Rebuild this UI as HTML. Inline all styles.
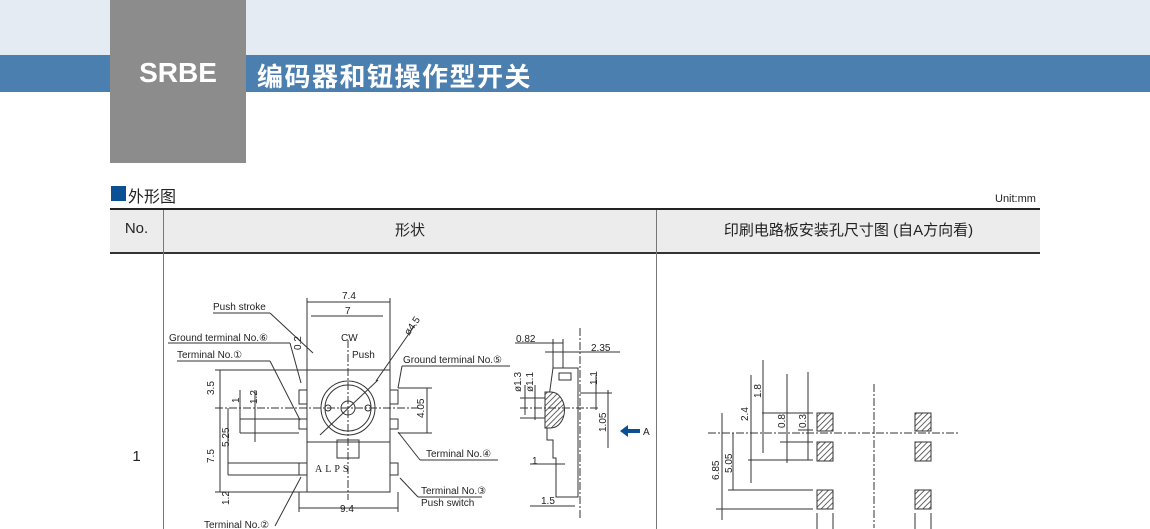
<!DOCTYPE html>
<html><head><meta charset="utf-8"><style>
body{margin:0;width:1150px;height:529px;overflow:hidden;background:#fff;position:relative;font-family:"Liberation Sans","Noto Sans CJK SC",sans-serif}
.a{position:absolute}
</style></head><body>
<div class="a" style="left:0;top:0;width:1150px;height:55px;background:#e4ebf3"></div>
<div class="a" style="left:0;top:55px;width:1150px;height:37px;background:#4b7fb0"></div>
<div class="a" style="left:110px;top:0;width:136px;height:163px;background:#8c8c8c"></div>
<div class="a" style="left:110px;top:57px;width:136px;text-align:center;color:#fff;font-weight:bold;font-size:28px">SRBE</div>
<div class="a" style="left:257px;top:57px;color:#fff;font-weight:bold;font-size:26px;letter-spacing:1.5px">编码器和钮操作型开关</div>
<div class="a" style="left:111px;top:186px;width:15px;height:15px;background:#0b4f94"></div>
<div class="a" style="left:128px;top:183px;font-size:16px;color:#222">外形图</div>
<div class="a" style="left:995px;top:193px;font-size:11px;color:#222">Unit:mm</div>
<div class="a" style="left:110px;top:208px;width:930px;height:42px;background:#ececec;border-top:2px solid #222;border-bottom:2px solid #333"></div>
<div class="a" style="left:163px;top:210px;width:1px;height:319px;background:#777"></div>
<div class="a" style="left:656px;top:210px;width:1px;height:319px;background:#777"></div>
<div class="a" style="left:110px;top:220px;width:53px;text-align:center;font-size:15px;color:#222">No.</div>
<div class="a" style="left:164px;top:219px;width:492px;text-align:center;font-size:15px;color:#222">形状</div>
<div class="a" style="left:657px;top:219px;width:383px;text-align:center;font-size:15px;color:#222">印刷电路板安装孔尺寸图 (自A方向看)</div>
<div class="a" style="left:110px;top:448px;width:53px;text-align:center;font-size:15px;color:#222">1</div>
<svg class="a" style="left:0;top:0" width="1150" height="529" font-family="Liberation Sans,sans-serif" font-size="10" fill="#222">
<defs><pattern id="h" width="4" height="4" patternUnits="userSpaceOnUse" patternTransform="rotate(45)"><rect width="4" height="4" fill="#fff"/><line x1="0" y1="0" x2="0" y2="4" stroke="#333" stroke-width="1.5"/></pattern></defs>
<g stroke="#333" stroke-width="1" fill="none">
<rect x="307" y="370" width="83" height="72"/>
<rect x="307" y="442" width="83" height="50"/>
<rect x="299" y="390" width="8" height="14"/><rect x="390" y="390" width="8" height="14"/>
<rect x="299" y="419" width="8" height="10"/><rect x="390" y="419" width="8" height="10"/>
<rect x="299" y="463" width="8" height="12"/><rect x="390" y="463" width="8" height="12"/>
<circle cx="348" cy="408" r="27"/><circle cx="348" cy="408" r="23"/><circle cx="348" cy="408" r="7"/>
<circle cx="328" cy="408" r="3"/><circle cx="368" cy="408" r="3"/>
<rect x="337" y="440" width="22" height="18"/>
<line x1="320" y1="435" x2="378" y2="380"/>
<line x1="376" y1="381" x2="415" y2="325"/>
<line x1="307" y1="302" x2="390" y2="302"/><line x1="311" y1="316" x2="383" y2="316"/>
<line x1="307" y1="298" x2="307" y2="370"/><line x1="390" y1="298" x2="390" y2="370"/>
<line x1="299" y1="508" x2="398" y2="508"/>
<line x1="299" y1="492" x2="299" y2="512"/><line x1="398" y1="492" x2="398" y2="512"/>
<line x1="215" y1="370" x2="307" y2="370"/><line x1="215" y1="408" x2="420" y2="408" stroke-dasharray="8 2 2 2"/>
<line x1="348" y1="340" x2="348" y2="500" stroke-dasharray="8 2 2 2"/>
<line x1="220" y1="370" x2="220" y2="492"/><line x1="215" y1="492" x2="307" y2="492"/>
<line x1="228" y1="408" x2="228" y2="475"/><line x1="228" y1="463" x2="299" y2="463"/><line x1="228" y1="475" x2="299" y2="475"/>
<line x1="240" y1="390" x2="240" y2="433"/><line x1="255" y1="390" x2="255" y2="442"/>
<line x1="240" y1="419" x2="299" y2="419"/><line x1="240" y1="433" x2="299" y2="433"/>
<line x1="398" y1="388" x2="432" y2="388"/><line x1="398" y1="433" x2="432" y2="433"/><line x1="427" y1="388" x2="427" y2="433"/>
<line x1="213" y1="313" x2="270" y2="313"/><line x1="270" y1="313" x2="313" y2="353"/>
<line x1="168" y1="343" x2="290" y2="343"/><line x1="290" y1="343" x2="301" y2="383"/>
<line x1="177" y1="361" x2="270" y2="361"/><line x1="270" y1="361" x2="300" y2="420"/>
<line x1="402" y1="366" x2="510" y2="366"/><line x1="402" y1="366" x2="398" y2="388"/>
<line x1="398" y1="432" x2="420" y2="460"/><line x1="420" y1="460" x2="498" y2="460"/>
<line x1="400" y1="478" x2="418" y2="497"/><line x1="418" y1="497" x2="482" y2="497"/>
<line x1="301" y1="477" x2="275" y2="526"/>
<path d="M553 368 H578 V497 H556 V458 H553 V440 H547 V426 H545 Z"/>
<path d="M545 392 h6 a12 16 0 0 1 0 36 h-6 z" fill="url(#h)"/>
<rect x="559" y="373" width="12" height="7"/>
<line x1="580" y1="328" x2="580" y2="520" stroke-dasharray="8 2 2 2"/>
<line x1="515" y1="343" x2="563" y2="343"/><line x1="553" y1="339" x2="553" y2="368"/><line x1="563" y1="339" x2="563" y2="368"/>
<line x1="545" y1="352" x2="620" y2="352"/>
<line x1="520" y1="408" x2="600" y2="408" stroke-dasharray="8 2 2 2"/>
<line x1="520" y1="398" x2="545" y2="398"/><line x1="520" y1="418" x2="545" y2="418"/>
<line x1="525" y1="385" x2="525" y2="415"/><line x1="535" y1="385" x2="535" y2="420"/>
<line x1="596" y1="375" x2="596" y2="410"/><line x1="608" y1="390" x2="608" y2="448"/>
<line x1="580" y1="393" x2="612" y2="393"/>
<line x1="530" y1="464" x2="565" y2="464"/><line x1="530" y1="506" x2="575" y2="506"/>
<line x1="708" y1="433" x2="960" y2="433" stroke-dasharray="8 2 2 2"/>
<line x1="874" y1="384" x2="874" y2="528" stroke-dasharray="8 2 2 2"/>
<line x1="763" y1="360" x2="763" y2="453"/><line x1="787" y1="374" x2="787" y2="463"/><line x1="808" y1="372" x2="808" y2="460"/>
<line x1="751" y1="375" x2="751" y2="483"/><line x1="722" y1="413" x2="722" y2="520"/><line x1="733" y1="433" x2="733" y2="490"/>
<line x1="762" y1="413" x2="813" y2="413"/><line x1="780" y1="442" x2="813" y2="442"/><line x1="748" y1="460" x2="813" y2="460"/>
<line x1="798" y1="430" x2="813" y2="430"/><line x1="728" y1="490" x2="813" y2="490"/><line x1="716" y1="509" x2="813" y2="509"/>
<line x1="817" y1="513" x2="817" y2="529"/><line x1="833" y1="513" x2="833" y2="529"/>
<line x1="915" y1="513" x2="915" y2="529"/><line x1="931" y1="513" x2="931" y2="529"/>
</g>
<g fill="url(#h)" stroke="#333">
<rect x="817" y="413" width="16" height="18"/><rect x="817" y="442" width="16" height="19"/><rect x="817" y="490" width="16" height="19"/>
<rect x="915" y="413" width="16" height="18"/><rect x="915" y="442" width="16" height="19"/><rect x="915" y="490" width="16" height="19"/>
</g>
<path d="M620 431 l8 -6 v4 h12 v4 h-12 v4 z" fill="#0b4f94"/>
<text x="643" y="435">A</text>
<text x="342" y="299">7.4</text><text x="345" y="314">7</text>
<text x="213" y="310">Push stroke</text>
<text x="169" y="341">Ground terminal No.⑥</text>
<text x="177" y="358">Terminal No.①</text>
<text x="403" y="363">Ground terminal No.⑤</text>
<text x="341" y="341">CW</text><text x="352" y="358">Push</text>
<text x="426" y="457">Terminal No.④</text>
<text x="421" y="494">Terminal No.③</text><text x="421" y="506">Push switch</text>
<text x="204" y="528">Terminal No.②</text>
<text x="340" y="512">9.4</text>
<text x="315" y="472" font-family="Liberation Serif,serif" letter-spacing="3">ALPS</text>
<text x="516" y="342">0.82</text><text x="591" y="351">2.35</text>
<text x="532" y="464">1</text><text x="541" y="504">1.5</text>
<g transform="rotate(-90)">
<text x="-395" y="214">3.5</text><text x="-403" y="239">1</text><text x="-404" y="257">1.2</text>
<text x="-463" y="214">7.5</text><text x="-447" y="229">5.25</text><text x="-505" y="229">1.2</text>
<text x="-418" y="424">4.05</text>
<text x="-350" y="301">0.2</text>
<text x="-392" y="521">ø1.3</text><text x="-392" y="533">ø1.1</text>
<text x="-385" y="597">1.1</text><text x="-432" y="606">1.05</text>
<text x="-398" y="761">1.8</text><text x="-421" y="748">2.4</text><text x="-428" y="785">0.8</text><text x="-428" y="806">0.3</text>
<text x="-480" y="719">6.85</text><text x="-473" y="732">5.05</text>
</g>
<text transform="translate(409,336) rotate(-55)">ø4.5</text>
</svg>
</body></html>
